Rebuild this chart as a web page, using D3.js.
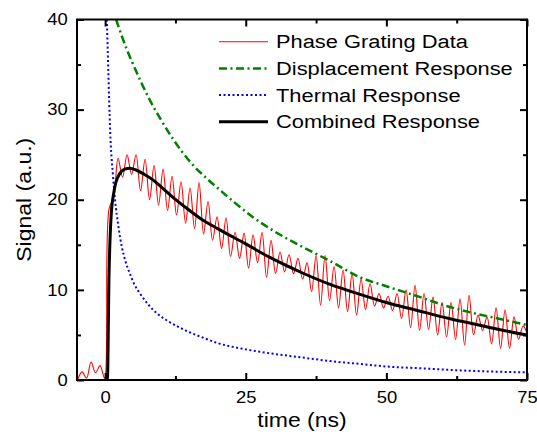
<!DOCTYPE html>
<html>
<head>
<meta charset="utf-8">
<script src="https://cdn.jsdelivr.net/npm/d3@7"></script>
<style>
  body { margin: 0; background: #fff; }
  text { font-family: 'Liberation Sans', Arial, sans-serif; fill: #000; }
</style>
</head>
<body>
<div id="chart"></div>
<script>
// Phase grating data, sampled every 0.8 ns starting at -4.9 ns
const dataStart = -4.9;
const dataStep = 0.8;
const phaseSignal = [
  0.0, 0.9, 0.2, 2.0, 0.8, 1.6, 0.2, 19.0, 20.2, 24.6,
  22.5, 25.0, 22.8, 25.0, 21.0, 24.5, 20.0, 23.8, 19.4, 23.4,
  18.8, 22.6, 18.3, 22.0, 17.4, 21.3, 16.8, 21.9, 16.2, 19.8,
  15.5, 18.1, 14.6, 18.0, 13.7, 16.4, 13.5, 16.3, 12.4, 16.1,
  13.0, 16.4, 11.4, 15.5, 11.8, 14.2, 12.0, 13.9, 11.8, 13.5,
  11.2, 13.0, 9.8, 13.8, 8.3, 13.8, 8.8, 12.6, 8.0, 12.2,
  7.6, 11.8, 7.2, 11.2, 7.8, 10.7, 8.2, 9.6, 8.0, 9.3,
  7.7, 9.6, 6.8, 10.0, 5.8, 10.5, 5.5, 9.6, 5.6, 9.2,
  5.0, 8.6, 4.8, 8.6, 4.5, 9.0, 3.9, 9.4, 5.0, 7.2,
  5.5, 7.0, 4.0, 8.0, 3.5, 7.8, 3.5, 7.0, 4.5, 6.0, 5.0
];

const dispTime = [1.95, 3, 3.9, 5, 6.5, 8, 10, 12, 13.7, 16, 18, 20, 23, 26, 29.3, 32, 35, 40, 45.3, 50, 55, 61.3, 65, 70, 75];
const dispSignal = [40, 38.1, 36.6, 35, 32.9, 31.0, 28.8, 26.8, 25.3, 23.6, 22.4, 21.3, 19.7, 18.2, 16.8, 15.8, 14.8, 13.2, 11.4, 10.4, 9.4, 8.1, 7.5, 6.8, 6.1];

const thermTime = [0.3, 0.55, 0.9, 1.37, 1.78, 2.37, 2.96, 3.6, 4.4, 5.2, 6.2, 7.5, 9.2, 11, 13, 15, 17, 20, 25, 30, 35, 40, 45, 50, 56, 62, 68, 75];
const thermSignal = [40, 34.7, 27.5, 22.9, 19.9, 17, 14.8, 13.2, 11.8, 10.6, 9.6, 8.5, 7.4, 6.6, 5.9, 5.3, 4.8, 4.1, 3.4, 2.9, 2.5, 2.1, 1.8, 1.5, 1.3, 1.1, 0.95, 0.85];

const combTime = [0, 0.4, 0.7, 1.05, 1.6, 2.5, 3.5, 4.4, 5.5, 7, 8.5, 10, 12, 14, 17, 20, 25, 29.3, 35, 40, 45.3, 50, 55, 61.3, 65, 70, 75];
const combSignal = [0, 0, 11.8, 18, 21, 22.8, 23.4, 23.5, 23.3, 22.8, 22.2, 21.4, 20.3, 19.3, 17.9, 16.8, 15.1, 13.6, 11.9, 10.6, 9.5, 8.6, 7.8, 6.8, 6.3, 5.6, 5.0];

const xMajor = [0, 25, 50, 75];
const xMinor = [12.5, 37.5, 62.5];
const yMajor = [0, 10, 20, 30, 40];
const yMinor = [5, 15, 25, 35];

const legendNames = ['Phase Grating Data', 'Displacement Response', 'Thermal Response', 'Combined Response'];

const xAxisTitle = 'time (ns)';
const yAxisTitle = 'Signal (a.u.)';

const figure_width = 537;
const figure_height = 435;
const plot = { left: 77, right: 527, top: 19.5, bottom: 380 };
const stretch = 'scale(1.15,1)';

const styles = [
  { color: '#ff0000', width: 1.1, dash: null },
  { color: '#008000', width: 2.5, dash: '8,3.5,2,3.5' },
  { color: '#0000ff', width: 2, dash: '2,2.5' },
  { color: '#000000', width: 3, dash: null }
];

const svg = d3.select( 'div#chart' )
  .append( 'svg' )
    .attr( 'width', figure_width )
    .attr( 'height', figure_height );

const x = d3.scaleLinear().domain( [-5, 75] ).range( [plot.left, plot.right] );
const y = d3.scaleLinear().domain( [0, 40] ).range( [plot.bottom, plot.top] );

svg.append( 'clipPath' ).attr( 'id', 'clip' )
  .append( 'rect' )
    .attr( 'x', plot.left ).attr( 'y', plot.top )
    .attr( 'width', plot.right - plot.left ).attr( 'height', plot.bottom - plot.top );

// curves
const phaseData = phaseSignal.map( ( v, i ) => [dataStart + i * dataStep, v] );
const dispData = dispTime.map( ( t, i ) => [t, dispSignal[i]] );
const thermData = thermTime.map( ( t, i ) => [t, thermSignal[i]] );
const combData = combTime.map( ( t, i ) => [t, combSignal[i]] );

const smooth = d3.line().x( d => x( d[0] ) ).y( d => y( d[1] ) ).curve( d3.curveMonotoneX );
const wiggle = d3.line().x( d => x( d[0] ) ).y( d => y( d[1] ) ).curve( d3.curveCatmullRom.alpha( 0.5 ) );

const curves = svg.append( 'g' ).attr( 'clip-path', 'url(#clip)' );
[[phaseData, wiggle], [dispData, smooth], [thermData, smooth], [combData, smooth]].forEach( function( c, i ) {
  curves.append( 'path' )
    .attr( 'd', c[1]( c[0] ) )
    .attr( 'fill', 'none' )
    .attr( 'stroke', styles[i].color )
    .attr( 'stroke-width', styles[i].width )
    .attr( 'stroke-dasharray', styles[i].dash );
});

// axes: ticks point inward, labels outside
function axisGroup( axis, tx, ty ) {
  const g = svg.append( 'g' )
    .attr( 'transform', 'translate(' + tx + ',' + ty + ')' )
    .call( axis );
  g.select( '.domain' ).remove();
  g.selectAll( 'line' ).attr( 'stroke', '#000' ).attr( 'stroke-width', 2 );
  g.selectAll( 'text' )
    .attr( 'font-size', 16 )
    .attr( 'font-family', 'Liberation Sans, Arial, sans-serif' )
    .attr( 'transform', stretch );
  return g;
}

axisGroup( d3.axisBottom( x ).tickValues( xMajor ).tickSize( -7 ).tickPadding( 11.5 ), 0, plot.bottom );
axisGroup( d3.axisBottom( x ).tickValues( xMinor ).tickSize( -4 ).tickFormat( '' ), 0, plot.bottom );
axisGroup( d3.axisTop( x ).tickValues( xMajor ).tickSize( -7 ).tickFormat( '' ), 0, plot.top );
axisGroup( d3.axisTop( x ).tickValues( xMinor ).tickSize( -4 ).tickFormat( '' ), 0, plot.top );
axisGroup( d3.axisLeft( y ).tickValues( yMajor ).tickSize( -7 ).tickPadding( 8 ), plot.left, 0 );
axisGroup( d3.axisLeft( y ).tickValues( yMinor ).tickSize( -4 ).tickFormat( '' ), plot.left, 0 );
axisGroup( d3.axisRight( y ).tickValues( yMajor ).tickSize( -7 ).tickFormat( '' ), plot.right, 0 );
axisGroup( d3.axisRight( y ).tickValues( yMinor ).tickSize( -4 ).tickFormat( '' ), plot.right, 0 );

// frame
svg.append( 'rect' )
  .attr( 'x', plot.left ).attr( 'y', plot.top )
  .attr( 'width', plot.right - plot.left ).attr( 'height', plot.bottom - plot.top )
  .attr( 'fill', 'none' ).attr( 'stroke', '#000' ).attr( 'stroke-width', 2 );

// axis titles
svg.append( 'text' )
  .attr( 'transform', 'translate(' + ( plot.left + plot.right ) / 2 + ',427) ' + stretch )
  .attr( 'text-anchor', 'middle' )
  .attr( 'font-size', 20 )
  .text( xAxisTitle );

svg.append( 'text' )
  .attr( 'transform', 'translate(31,' + ( plot.top + plot.bottom ) / 2 + ') rotate(-90) ' + stretch )
  .attr( 'text-anchor', 'middle' )
  .attr( 'font-size', 20 )
  .text( yAxisTitle );

// legend
const legendY = 41.7, legendGap = 26.7;
const legend = svg.append( 'g' );
legend.selectAll( 'line' )
  .data( legendNames )
  .enter()
  .append( 'line' )
    .attr( 'x1', 219 ).attr( 'x2', 268 )
    .attr( 'y1', ( d, i ) => legendY + i * legendGap )
    .attr( 'y2', ( d, i ) => legendY + i * legendGap )
    .attr( 'stroke', ( d, i ) => styles[i].color )
    .attr( 'stroke-width', ( d, i ) => styles[i].width )
    .attr( 'stroke-dasharray', ( d, i ) => styles[i].dash );
legend.selectAll( 'text' )
  .data( legendNames )
  .enter()
  .append( 'text' )
    .attr( 'transform', ( d, i ) => 'translate(276,' + ( legendY + i * legendGap + 6.6 ) + ') ' + stretch )
    .attr( 'font-size', 19 )
    .text( d => d );
</script>
</body>
</html>
